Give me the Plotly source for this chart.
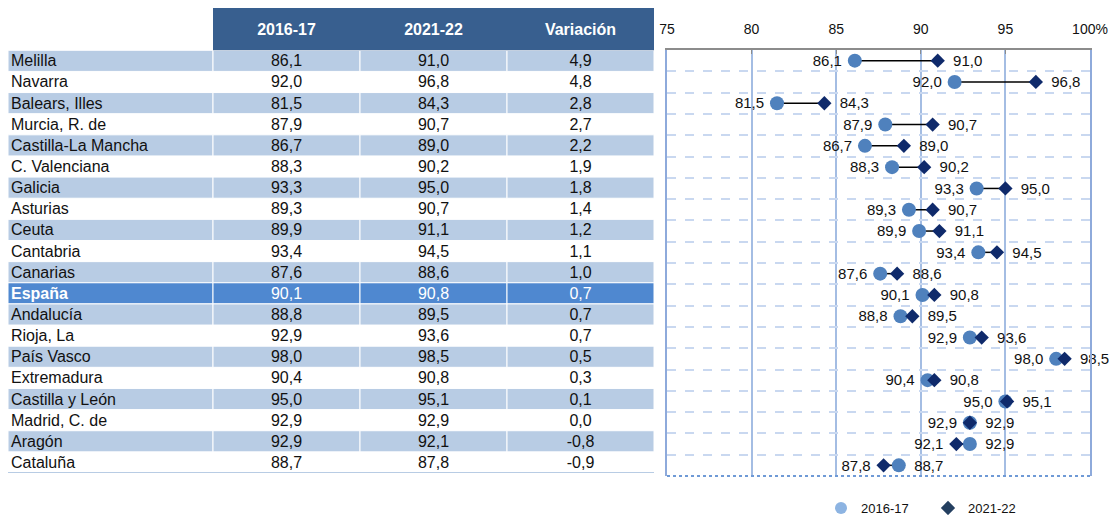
import plotly.graph_objects as go

# ---------------- data ----------------
regions = ['Melilla', 'Navarra', 'Balears, Illes', 'Murcia, R. de', 'Castilla-La Mancha',
           'C. Valenciana', 'Galicia', 'Asturias', 'Ceuta', 'Cantabria', 'Canarias',
           'España', 'Andalucía', 'Rioja, La', 'País Vasco', 'Extremadura',
           'Castilla y León', 'Madrid, C. de', 'Aragón', 'Cataluña']
v1617 = [86.1, 92.0, 81.5, 87.9, 86.7, 88.3, 93.3, 89.3, 89.9, 93.4, 87.6,
         90.1, 88.8, 92.9, 98.0, 90.4, 95.0, 92.9, 92.9, 88.7]
v2122 = [91.0, 96.8, 84.3, 90.7, 89.0, 90.2, 95.0, 90.7, 91.1, 94.5, 88.6,
         90.8, 89.5, 93.6, 98.5, 90.8, 95.1, 92.9, 92.1, 87.8]
variacion = [4.9, 4.8, 2.8, 2.7, 2.2, 1.9, 1.8, 1.4, 1.2, 1.1, 1.0,
             0.7, 0.7, 0.7, 0.5, 0.3, 0.1, 0.0, -0.8, -0.9]
headers = ['', '2016-17', '2021-22', 'Variación']
x_ticks = [75, 80, 85, 90, 95, 100]
x_ticktext = ['75', '80', '85', '90', '95', '100%']
highlight = 'España'

# ---------------- style ----------------
FONT = 'Liberation Sans, Arial, sans-serif'
OFF = 8                      # page body margin
W, H = 1117 - OFF, 515 - OFF
C_HEAD = '#385f8f'
C_SHADE = '#b8cce4'
C_HIGH = '#4f88d0'
C_CIRCLE = '#4f81bd'
C_DIAMOND = '#0f2a6b'
TXT_DY = 0.07                # small vertical nudge of table text (in row units)


def fmt(v):
    return f"{v:.1f}".replace('.', ',')


def px_x(p):
    return max(0.0, min(1.0, (p - OFF) / W))


def px_y(p):
    return max(0.0, min(1.0, 1 - (p - OFF) / H))


n = len(regions)
idx = list(range(n))
idx_txt = [i + TXT_DY for i in idx]

fig = go.Figure()

# ---------------- table (xaxis3 / yaxis3) ----------------
edges = [0, 205, 352, 499, 646]
centers = [(edges[j] + edges[j + 1]) / 2 for j in range(4)]
shapes = []
for i, r in enumerate(regions):
    if r == highlight:
        col = C_HIGH
    elif i % 2 == 0:
        col = C_SHADE
    else:
        continue
    for j in range(4):
        shapes.append(dict(type='rect', xref='x3', yref='y3', x0=edges[j], x1=edges[j + 1],
                           y0=i - 0.5, y1=i + 0.5, fillcolor=col,
                           line=dict(color='white', width=1), layer='below'))
# header
shapes.append(dict(type='rect', xref='x3', yref='y3', x0=edges[1], x1=edges[4],
                   y0=-2.5, y1=-0.5, fillcolor=C_HEAD, line=dict(width=0), layer='below'))
# bottom rule of table
shapes.append(dict(type='line', xref='x3', yref='y3', x0=edges[0], x1=edges[4],
                   y0=n - 0.5, y1=n - 0.5, line=dict(color=C_SHADE, width=2)))

fig.add_trace(go.Scatter(x=centers[1:], y=[-1.5 + 0.1] * 3,
                         text=[f"<b>{h}</b>" for h in headers[1:]],
                         mode='text', textposition='middle center',
                         textfont=dict(family=FONT, size=16, color='white'),
                         xaxis='x3', yaxis='y3', showlegend=False, hoverinfo='skip'))

txt_col = ['white' if r == highlight else '#111111' for r in regions]
fig.add_trace(go.Scatter(x=[3] * n, y=idx_txt,
                         text=[f"<b>{r}</b>" if r == highlight else r for r in regions],
                         mode='text', textposition='middle right',
                         textfont=dict(family=FONT, size=16, color=txt_col),
                         xaxis='x3', yaxis='y3', showlegend=False, hoverinfo='skip'))
for j, vals in zip([1, 2, 3], [v1617, v2122, variacion]):
    fig.add_trace(go.Scatter(x=[centers[j]] * n, y=idx_txt, text=[fmt(v) for v in vals],
                             mode='text', textposition='middle center',
                             textfont=dict(family=FONT, size=16, color=txt_col),
                             xaxis='x3', yaxis='y3', showlegend=False, hoverinfo='skip'))

# ---------------- dumbbell chart ----------------
cx, cy = [], []
for i in idx:
    cx += [v1617[i], v2122[i], None]
    cy += [i, i, None]
fig.add_trace(go.Scatter(x=cx, y=cy, mode='lines', line=dict(color='black', width=1.5),
                         showlegend=False, hoverinfo='skip'))
fig.add_trace(go.Scatter(x=v1617, y=idx, mode='markers', name='2016-17',
                         marker=dict(symbol='circle', size=14, color=C_CIRCLE),
                         showlegend=False))
fig.add_trace(go.Scatter(x=v2122, y=idx, mode='markers', name='2021-22',
                         marker=dict(symbol='diamond', size=11, color=C_DIAMOND),
                         showlegend=False))

lo = [min(a, b) for a, b in zip(v1617, v2122)]
hi = [max(a, b) for a, b in zip(v1617, v2122)]
fig.add_trace(go.Scatter(x=lo, y=idx_txt, text=[fmt(v) for v in lo], mode='markers+text',
                         textposition='middle left', marker=dict(size=19, opacity=0),
                         textfont=dict(family=FONT, size=15, color='#111111'),
                         cliponaxis=False, showlegend=False, hoverinfo='skip'))
fig.add_trace(go.Scatter(x=hi, y=idx_txt, text=[fmt(v) for v in hi], mode='markers+text',
                         textposition='middle right', marker=dict(size=23, opacity=0),
                         textfont=dict(family=FONT, size=15, color='#111111'),
                         cliponaxis=False, showlegend=False, hoverinfo='skip'))

# legend-only entries
fig.add_trace(go.Scatter(x=[None], y=[None], mode='markers', name='2016-17',
                         marker=dict(symbol='circle', size=12, color='#8db4e2')))
fig.add_trace(go.Scatter(x=[None], y=[None], mode='markers', name='2021-22',
                         marker=dict(symbol='diamond', size=11, color='#243f60')))

shapes.append(dict(type='line', xref='x domain', yref='y domain', x0=0, x1=1, y0=0, y1=0,
                   line=dict(color='#6f9ad6', width=2, dash='dot')))

fig.update_layout(
    width=W, height=H, margin=dict(l=0, r=0, t=0, b=0, autoexpand=False),
    paper_bgcolor='white', plot_bgcolor='white',
    font=dict(family=FONT, size=14, color='#111111'),
    shapes=shapes,
    xaxis=dict(domain=[px_x(667), px_x(1090)], range=[75, 100], side='top',
               tickvals=x_ticks, ticktext=x_ticktext, showgrid=True,
               gridcolor='#a4bde3', gridwidth=1.5, showline=True, linecolor='#8c8c8c',
               linewidth=2, ticks='inside', ticklen=4, tickcolor='#8c8c8c',
               zeroline=False, ticklabelstandoff=8, automargin=False,
               tickfont=dict(family=FONT, size=14, color='#111111')),
    yaxis=dict(domain=[px_y(476), px_y(50)], range=[n - 0.5, -0.5],
               tickvals=[i + 0.5 for i in range(n - 1)], showticklabels=False,
               showgrid=True, griddash='dash', gridcolor='#c9d8f0', gridwidth=1.5,
               zeroline=False, ticks='', showline=True, mirror=True, automargin=False,
               linecolor='#8eaadb', linewidth=1.5),
    xaxis3=dict(domain=[px_x(8), px_x(654)], range=[0, 646], visible=False,
                anchor='y3', fixedrange=True, automargin=False),
    yaxis3=dict(domain=[px_y(473), px_y(8)], range=[n - 0.5, -2.5], visible=False,
                anchor='x3', fixedrange=True, automargin=False),
    legend=dict(orientation='h', x=px_x(821), y=px_y(508), yanchor='middle', xanchor='left',
                font=dict(family=FONT, size=13, color='#111111'), itemwidth=30,
                entrywidth=62, entrywidthmode='pixels',
                tracegroupgap=0, bgcolor='rgba(0,0,0,0)'),
)

fig.write_html("out.html")
